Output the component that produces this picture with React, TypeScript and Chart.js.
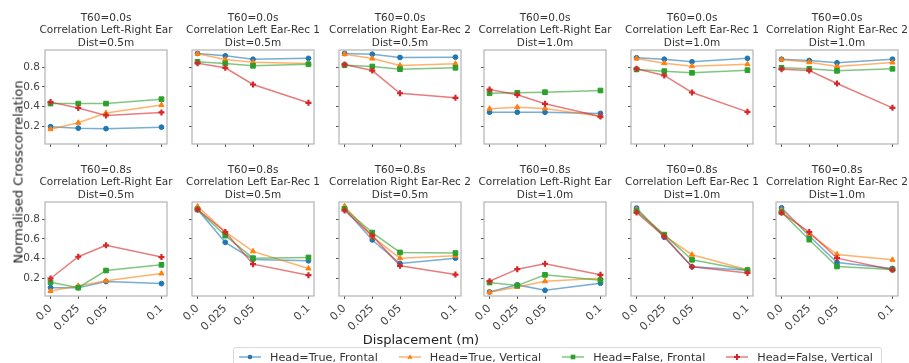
import React, { useEffect, useRef } from "react";
import { Chart, registerables } from "chart.js";
Chart.register(...registerables);

// ---------- data ----------
const displacement = [0, 0.025, 0.05, 0.1];
const xTickLabels = ["0.0", "0.025", "0.05", "0.1"];
const yTickValues = [0.2, 0.4, 0.6, 0.8];
const yTickLabels = ["0.2", "0.4", "0.6", "0.8"];
const seriesLabels = ["Head=True, Frontal", "Head=True, Vertical", "Head=False, Frontal", "Head=False, Vertical"];
const t60Labels = ["T60=0.0s", "T60=0.8s"];
const pairLabels = ["Correlation Left-Right Ear", "Correlation Left Ear-Rec 1", "Correlation Right Ear-Rec 2"];
const distLabels = ["Dist=0.5m", "Dist=1.0m"];
const yAxisLabel = "Normalised Crosscorrelation";
const xAxisLabel = "Displacement (m)";

// each: [Head=True Frontal, Head=True Vertical, Head=False Frontal, Head=False Vertical]
// T60 = 0.0 s
const t0_LR_05 = [[0.195, 0.18, 0.175, 0.19], [0.17, 0.235, 0.335, 0.415], [0.43, 0.43, 0.43, 0.475], [0.445, 0.385, 0.31, 0.34]];
const t0_L1_05 = [[0.94, 0.916, 0.881, 0.89], [0.936, 0.878, 0.85, 0.838], [0.855, 0.838, 0.814, 0.83], [0.84, 0.794, 0.624, 0.438]];
const t0_R2_05 = [[0.94, 0.932, 0.899, 0.902], [0.932, 0.888, 0.817, 0.835], [0.82, 0.807, 0.78, 0.794], [0.827, 0.766, 0.535, 0.489]];
const t0_LR_10 = [[0.342, 0.342, 0.342, 0.33], [0.377, 0.393, 0.38, 0.3], [0.535, 0.54, 0.546, 0.563], [0.573, 0.519, 0.428, 0.298]];
const t0_L1_10 = [[0.896, 0.881, 0.855, 0.89], [0.888, 0.841, 0.81, 0.83], [0.777, 0.76, 0.743, 0.77], [0.784, 0.716, 0.543, 0.346]];
const t0_R2_10 = [[0.881, 0.868, 0.845, 0.881], [0.878, 0.851, 0.807, 0.848], [0.794, 0.784, 0.763, 0.784], [0.78, 0.766, 0.634, 0.387]];
// T60 = 0.8 s
const t8_LR_05 = [[0.104, 0.104, 0.166, 0.145], [0.07, 0.122, 0.173, 0.248], [0.159, 0.104, 0.278, 0.336], [0.197, 0.418, 0.534, 0.415]];
const t8_L1_05 = [[0.899, 0.565, 0.391, 0.377], [0.93, 0.67, 0.473, 0.299], [0.899, 0.633, 0.404, 0.411], [0.899, 0.67, 0.343, 0.231]];
const t8_R2_05 = [[0.906, 0.589, 0.35, 0.404], [0.933, 0.623, 0.404, 0.428], [0.906, 0.664, 0.462, 0.456], [0.889, 0.633, 0.326, 0.237]];
const t8_LR_10 = [[0.06, 0.132, 0.077, 0.149], [0.057, 0.111, 0.169, 0.2], [0.156, 0.125, 0.234, 0.179], [0.169, 0.292, 0.347, 0.234]];
const t8_L1_10 = [[0.913, 0.616, 0.316, 0.282], [0.899, 0.633, 0.439, 0.285], [0.882, 0.643, 0.387, 0.282], [0.868, 0.626, 0.316, 0.254]];
const t8_R2_10 = [[0.916, 0.63, 0.36, 0.299], [0.895, 0.65, 0.442, 0.387], [0.872, 0.592, 0.319, 0.289], [0.865, 0.67, 0.404, 0.285]];

const panels = [
  [t0_LR_05, t0_L1_05, t0_R2_05, t0_LR_10, t0_L1_10, t0_R2_10],
  [t8_LR_05, t8_L1_05, t8_R2_05, t8_LR_10, t8_L1_10, t8_R2_10],
];

// ---------- style ----------
const FONT = "'DejaVu Sans', 'Liberation Sans', sans-serif";
const seriesColors = ["#1f77b4", "#ff7f0e", "#2ca02c", "#d62728"];
const pointStyles = ["circle", "triangle", "rect", "cross"];
const pointRadii = [2.4, 3.0, 3.3, 3.0];
const pointBorderWidths = [1, 1, 1, 2.2];

const colLefts = [45, 192, 339, 484, 631, 776];
const rowTops = [50, 202];
const PLOT_W = 122;
const PLOT_H = 94;
const Y_AXIS_W = 35;
const TITLE_H = 40;
const X_AXIS_H = 45;

function rgba(hex: string, a: number) {
  const n = parseInt(hex.slice(1), 16);
  return `rgba(${(n >> 16) & 255},${(n >> 8) & 255},${n & 255},${a})`;
}

const framePlugin = {
  id: "frame",
  afterDraw(chart: any) {
    const { ctx, chartArea: a } = chart;
    ctx.save();
    ctx.strokeStyle = "#b3b3b3";
    ctx.lineWidth = 1.2;
    ctx.strokeRect(a.left, a.top, a.right - a.left, a.bottom - a.top);
    ctx.restore();
  },
};

function Panel({ row, col }: { row: number; col: number }) {
  const ref = useRef<HTMLCanvasElement | null>(null);
  useEffect(() => {
    if (!ref.current) return;
    const values = panels[row][col];
    const showY = col === 0;
    const showX = row === 1;
    const chart = new Chart(ref.current, {
      type: "line",
      data: {
        datasets: values.map((vals: number[], i: number) => ({
          label: seriesLabels[i],
          data: displacement.map((x, j) => ({ x, y: vals[j] })),
          borderColor: rgba(seriesColors[i], 0.6),
          backgroundColor: seriesColors[i],
          pointBackgroundColor: seriesColors[i],
          pointBorderColor: seriesColors[i],
          pointStyle: pointStyles[i] as any,
          pointRadius: pointRadii[i],
          pointBorderWidth: pointBorderWidths[i],
          borderWidth: 1.5,
          tension: 0,
          order: 3 - i,
          clip: false as any,
        })),
      },
      options: {
        animation: false,
        responsive: false,
        events: [],
        layout: { padding: 0 },
        plugins: {
          legend: { display: false },
          tooltip: { enabled: false },
          title: {
            display: true,
            text: [t60Labels[row], pairLabels[col % 3], distLabels[Math.floor(col / 3)]],
            font: { family: FONT, size: 10.5, lineHeight: 1.2, weight: "normal" as any },
            color: "#333",
            padding: { top: 1.5, bottom: 0.7 },
          },
        },
        scales: {
          x: {
            type: "linear",
            min: -0.005,
            max: 0.105,
            afterBuildTicks: (s: any) => {
              s.ticks = displacement.map((v) => ({ value: v }));
            },
            ticks: {
              display: showX,
              autoSkip: false,
              minRotation: 45,
              maxRotation: 45,
              padding: 3,
              color: "#444",
              font: { family: FONT, size: 11 },
              callback: (_v: any, i: number) => xTickLabels[i],
            },
            grid: { display: true, drawOnChartArea: false, drawTicks: true, tickLength: 3, color: "#555", lineWidth: 1 },
            border: { display: false },
            afterFit: (s: any) => {
              s.height = X_AXIS_H;
              s.paddingLeft = 0;
              s.paddingRight = 0;
            },
          },
          y: {
            type: "linear",
            min: 0.019,
            max: 0.975,
            afterBuildTicks: (s: any) => {
              s.ticks = yTickValues.map((v) => ({ value: v }));
            },
            ticks: {
              display: showY,
              padding: 2,
              color: "#444",
              font: { family: FONT, size: 10.5 },
              callback: (_v: any, i: number) => yTickLabels[i],
            },
            grid: { display: true, drawOnChartArea: false, drawTicks: true, tickLength: 3, color: "#555", lineWidth: 1 },
            border: { display: false },
            afterFit: (s: any) => {
              s.width = Y_AXIS_W;
              s.paddingTop = 0;
              s.paddingBottom = 0;
            },
          },
          yRight: {
            type: "linear",
            position: "right",
            display: true,
            ticks: { display: false },
            grid: { display: false },
            border: { display: false },
            afterFit: (s: any) => {
              s.width = Y_AXIS_W;
              s.paddingTop = 0;
              s.paddingBottom = 0;
            },
          },
        },
      },
      plugins: [framePlugin],
    } as any);
    return () => chart.destroy();
  }, [row, col]);

  const w = Y_AXIS_W * 2 + PLOT_W;
  const h = TITLE_H + PLOT_H + X_AXIS_H;
  return (
    <canvas
      ref={ref}
      width={w}
      height={h}
      style={{
        position: "absolute",
        left: colLefts[col] - Y_AXIS_W,
        top: rowTops[row] - TITLE_H,
        width: w,
        height: h,
      }}
    />
  );
}

function LegendMarker({ i }: { i: number }) {
  const c = seriesColors[i];
  let m: any = null;
  if (i === 0) m = <circle cx={11} cy={5} r={2.3} fill={c} />;
  else if (i === 1) m = <polygon points="11,2.2 13.6,6.8 8.4,6.8" fill={c} />;
  else if (i === 2) m = <rect x={8.7} y={2.7} width={4.6} height={4.6} fill={c} />;
  else
    m = (
      <g stroke={c} strokeWidth={2}>
        <line x1={11} y1={2} x2={11} y2={8} />
        <line x1={8} y1={5} x2={14} y2={5} />
      </g>
    );
  return (
    <svg width={22} height={10} style={{ display: "block" }}>
      <line x1={0} y1={5} x2={22} y2={5} stroke={rgba(c, 0.6)} strokeWidth={1.5} />
      {m}
    </svg>
  );
}

export default function App() {
  const cells: any[] = [];
  for (let r = 0; r < 2; r++) for (let c = 0; c < 6; c++) cells.push(<Panel key={`${r}-${c}`} row={r} col={c} />);
  return (
    <div
      style={{
        position: "fixed",
        left: 0,
        top: 0,
        width: 909,
        height: 363,
        background: "#fff",
        overflow: "hidden",
        fontFamily: FONT,
      }}
    >
      {cells}
      <div
        style={{
          position: "absolute",
          left: 18,
          top: 172,
          transform: "translate(-50%, -50%) rotate(-90deg)",
          whiteSpace: "nowrap",
          fontSize: 13,
          color: "#222",
        }}
      >
        {yAxisLabel}
      </div>
      <div
        style={{
          position: "absolute",
          left: 421,
          top: 339,
          transform: "translate(-50%, -50%)",
          whiteSpace: "nowrap",
          fontSize: 13,
          color: "#222",
        }}
      >
        {xAxisLabel}
      </div>
      <div
        style={{
          position: "absolute",
          left: 233,
          top: 347,
          height: 24,
          boxSizing: "border-box",
          border: "1px solid #d9d9d9",
          borderRadius: 3,
          display: "flex",
          alignItems: "center",
          padding: "0 8px 4px 5px",
          fontSize: 11.2,
          color: "#333",
          whiteSpace: "nowrap",
        }}
      >
        {seriesLabels.map((lab, i) => (
          <div key={lab} style={{ display: "flex", alignItems: "center", marginRight: i < 3 ? 21 : 0 }}>
            <LegendMarker i={i} />
            <span style={{ marginLeft: 9 }}>{lab}</span>
          </div>
        ))}
      </div>
    </div>
  );
}
